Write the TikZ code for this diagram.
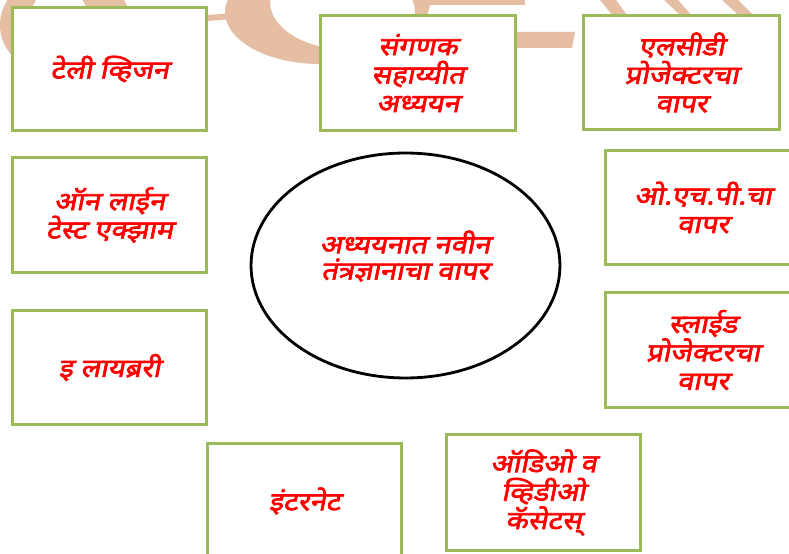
\documentclass[tikz,border=0pt]{standalone}
\usepackage{fontspec}
\newfontfamily\deva[Script=Devanagari, FakeSlant=0.2, FakeBold=2.5, FakeStretch=1.14]{Noto Sans}
\usetikzlibrary{shapes.geometric}
\definecolor{boxgreen}{RGB}{155,187,89}
\definecolor{marktan}{RGB}{230,190,164}
\tikzset{
	topic/.style={draw=boxgreen, line width=1.7pt, fill=white, inner sep=0pt, align=center, text=red, font=\deva\fontsize{14.5}{16.2}\selectfont},
	hub/.style={ellipse, draw=black, line width=1.6pt, fill=white, inner sep=0pt, minimum width=6.18cm, minimum height=4.5cm},
	hubtext/.style={align=center, text=red, inner sep=0pt, font=\deva\fontsize{14.5}{15}\selectfont}
}

\begin{document}
\begin{tikzpicture}[x=0.02cm, y=-0.02cm]
			%%%%% START %%%%%
			\useasboundingbox (0, 0) rectangle (789, 554);
			\clip (0, 0) rectangle (789, 554);
			\fill[white] (0, 0) rectangle (789, 554);
			
			% faint watermark letters at the top
			\fill[marktan, even odd rule] (45, 25) ellipse [x radius=45, y radius=45] (80, 20) ellipse [x radius=50, y radius=42];
			\fill[marktan] (207, 15) -- (235, 13) -- (235, 19) -- (207, 21) -- cycle;
			\fill[marktan, even odd rule] (320, 12) ellipse [x radius=95, y radius=52] (350, 2) ellipse [x radius=80, y radius=48];
			\fill[marktan] (425, 32) -- (575, 32) -- (572, 48) -- (422, 48) -- cycle;
			\fill[marktan] (420, 0) -- (525, 0) -- (525, 5) -- (420, 5) -- cycle;
			\fill[marktan] (600, 0) -- (616, 0) -- (643, 37) -- (630, 37) -- cycle;
			\fill[marktan] (664, 0) -- (678, 0) -- (693, 17) -- (682, 17) -- cycle;
			\fill[marktan] (722, 0) -- (738, 0) -- (760, 22) -- (746, 22) -- cycle;
			
			% centre
			\node[hub] (centre) at (405.5, 265.5) {};
			\node[hubtext] (centretext) at (405, 256) {अध्ययनात नवीन\\ तंत्रज्ञानाचा वापर};
			
			% left column
			\node[topic, minimum width=3.9cm, minimum height=2.48cm] (tv) at (109.5, 69) {टेली व्हिजन};
			\node[topic, minimum width=3.9cm, minimum height=2.32cm] (online) at (109.5, 215) {ऑन लाईन\\ टेस्ट एक्झाम};
			\node[topic, minimum width=3.9cm, minimum height=2.30cm] (elib) at (109.5, 367.5) {इ लायब्ररी};
			
			% top row
			\node[topic, minimum width=3.92cm, minimum height=2.32cm] (cal) at (418, 73) {संगणक\\ सहाय्यीत\\ अध्ययन};
			\node[topic, minimum width=3.94cm, minimum height=2.30cm] (lcd) at (681.5, 72.5) {एलसीडी\\ प्रोजेक्टरचा\\ वापर};
			
			% right column
			\node[topic, minimum width=3.9cm, minimum height=2.30cm] (ohp) at (703, 207.5) {ओ.एच.पी.चा\\ वापर};
			\node[topic, minimum width=3.9cm, minimum height=2.32cm] (slide) at (703, 350) {स्लाईड\\ प्रोजेक्टरचा\\ वापर};
			
			% bottom row
			\node[topic, minimum width=3.9cm, minimum height=2.32cm] (net) at (304.5, 501) {इंटरनेट};
			\node[topic, minimum width=3.9cm, minimum height=2.34cm] (cassette) at (543.5, 492.5) {ऑडिओ व\\ व्हिडीओ\\ कॅसेटस्};
			%%%%% END %%%%%
\end{tikzpicture}
\end{document}
